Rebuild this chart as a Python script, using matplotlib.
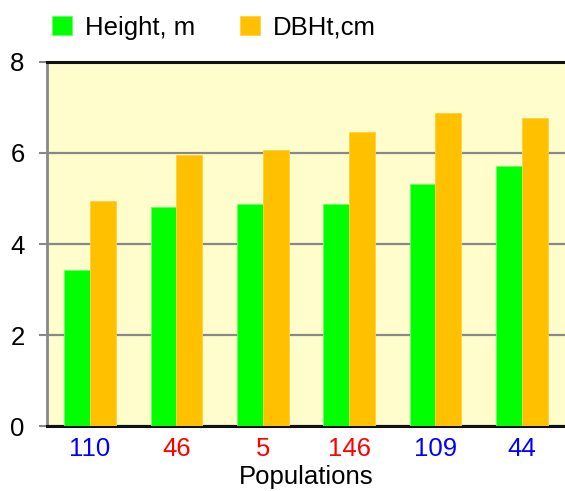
import numpy as np
import matplotlib.pyplot as plt

plt.rcParams['font.family'] = ['Liberation Sans', 'DejaVu Sans']

populations = ['110', '46', '5', '146', '109', '44']
label_colors = ['#0000ff', '#ff0000', '#ff0000', '#ff0000', '#0000ff', '#0000ff']
height_m = [3.42, 4.81, 4.87, 4.87, 5.32, 5.71]
dbh_cm = [4.95, 5.96, 6.07, 6.47, 6.87, 6.76]

fig = plt.figure(figsize=(5.65, 4.91), dpi=100)
ax = fig.add_axes([0.083, 0.132, 0.917, 0.742])
ax.set_facecolor('#fffdcc')

x = np.arange(len(populations))
w = 0.3
ax.bar(x - w / 2, height_m, w, color='#00ff00', edgecolor='#66ff66', linewidth=0.6,
       label='Height, m', zorder=3)
ax.bar(x + w / 2, dbh_cm, w, color='#ffc000', edgecolor='#ffd040', linewidth=0.6,
       label='DBHt,cm', zorder=3)

ax.set_xlim(-0.5, len(populations) - 0.5)
ax.set_ylim(0, 8)
ax.set_yticks([0, 2, 4, 6, 8])
ax.grid(axis='y', color='#888888', linewidth=1.6, zorder=1)

fs = 18.5
ax.set_xticks(x)
ax.set_xticklabels(populations, fontsize=fs)
for lbl, c in zip(ax.get_xticklabels(), label_colors):
    lbl.set_color(c)
ax.tick_params(axis='x', length=0, pad=8)
ax.tick_params(axis='y', labelsize=fs, color='#888888', length=6, width=1.5, pad=10)
ax.set_xlabel('Populations', fontsize=fs, labelpad=3)

ax.spines['left'].set_color('#888888')
ax.spines['left'].set_linewidth(2)
ax.spines['top'].set_color('#111111')
ax.spines['top'].set_linewidth(2.2)
ax.spines['bottom'].set_color('#111111')
ax.spines['bottom'].set_linewidth(2.2)
ax.spines['right'].set_visible(False)

fig.legend(loc='upper left', bbox_to_anchor=(0.051, 1.015), ncol=2, frameon=False,
           fontsize=fs, handlelength=0.78, handleheight=0.78, handletextpad=0.5,
           columnspacing=1.75)

fig.savefig('out.png', dpi=100)
